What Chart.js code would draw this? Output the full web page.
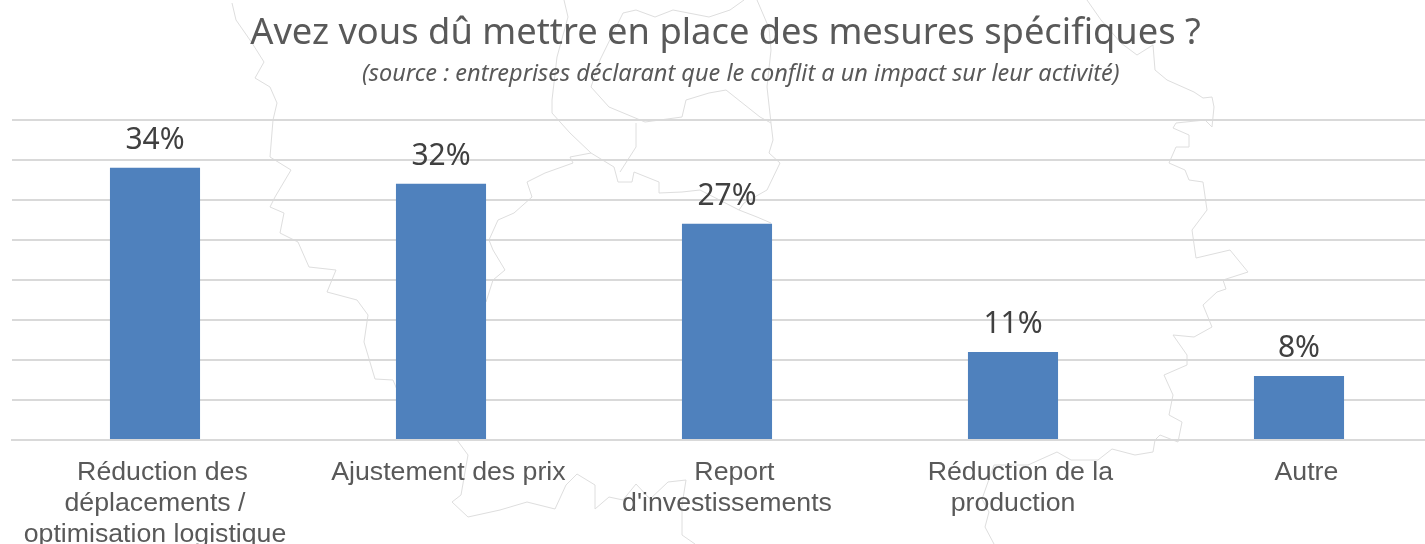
<!DOCTYPE html>
<html lang="fr">
<head>
<meta charset="utf-8">
<title>Mesures spécifiques</title>
<script src="https://cdn.jsdelivr.net/npm/chart.js@4"></script>
<style>
  html, body { margin: 0; padding: 0; background: #fff; overflow: hidden; }
  #wrap { position: relative; width: 1425px; height: 544px; overflow: hidden; }
  #map { position: absolute; left: 0; top: 0; }
  #box { position: absolute; left: 9px; top: 0; width: 1433px; height: 544px; }
</style>
</head>
<body>
<div id="wrap">
  <!-- contour de la carte en fond -->
  <svg id="map" width="1425" height="544" fill="none" stroke="#dedede" stroke-width="1">
    <path d="M232 3L236 20L243 30L252 43L264 62L255 78L270 87L277 103L273 120L270 157L291 170L275 197L270 207L284 213L280 233L298 242L309 267L336 270L327 292L357 300L368 315L364 342L375 379L393 380L398 392"/>
    <path d="M457 440L468 455L461 495L452 502L468 517L500 510L527 502L555 509L566 485L577 474L595 485L595 509L609 497L623 500L636 484L650 499L668 482L686 480L682 505L682 535L695 544"/>
    <path d="M994 544L985 527L989 512L982 499L994 465L1028 465L1057 452L1071 460L1098 460L1112 449L1135 455L1153 452L1155 440L1160 435L1178 442L1182 422L1169 415L1173 395L1164 375L1187 365L1187 355L1173 335L1194 337L1212 327L1203 305L1217 292L1226 289L1223 280L1248 272L1230 250L1196 258L1192 230L1207 210L1203 182L1189 180L1185 170L1169 163L1176 147L1189 147L1189 135L1173 128L1176 123L1205 120L1212 127L1214 107L1212 97L1203 98L1194 92L1167 80L1155 70L1153 45L1137 55L1121 43L1101 20L1087 0"/>
    <path d="M564 0L568 17L557 57L552 100L552 113L570 133L591 153L570 157L573 163L545 173L527 182L532 197L514 213L498 220L489 240L493 250L505 270L493 280L486 302"/>
    <path d="M591 153L614 167L618 182L632 182L634 172L659 182L659 193L682 192L700 190L739 210L757 217L771 223"/>
    <path d="M757 0L769 28L771 50L767 87L771 123L773 140L769 153L780 163L767 190L744 203L739 210"/>
    <path d="M591 87L609 107L645 122L682 117L686 100L709 93L726 90L760 117L771 123"/>
    <path d="M636 123L636 147L620 172"/>
    <path d="M591 87L600 60L623 13L636 10L655 17L673 10L709 17L730 10L744 0"/>
  </svg>
  <div id="box"><canvas id="graphique"></canvas></div>
</div>
<script>
const categories = [
  ["Réduction des", "déplacements /", "optimisation logistique"],
  "Ajustement des prix",
  ["Report", "d'investissements"],
  ["Réduction de la", "production"],
  "Autre",
];
const valeurs = [34, 32, 27, 11, 8];
const titre = "Avez vous dû mettre en place des mesures spécifiques ?";
const sousTitre = "(source : entreprises déclarant que le conflit a un impact sur leur activité)";

// première ligne des libellés légèrement décalée, comme sur l'original
function decaleLibelle(label) {
  const lignes = Array.isArray(label) ? label : [label];
  return lignes.map((ligne, i) => (i === 0 ? "\u00a0\u00a0" + ligne : ligne));
}

// valeurs au-dessus des barres (pas de plugin datalabels disponible)
const etiquettes = {
  id: "etiquettes",
  afterDatasetsDraw(chart) {
    const ctx = chart.ctx;
    ctx.save();
    ctx.font = "30px 'Noto Sans'";
    ctx.fillStyle = "#404040";
    ctx.textAlign = "center";
    ctx.textBaseline = "alphabetic";
    chart.getDatasetMeta(0).data.forEach((bar, i) => {
      ctx.fillText(valeurs[i] + "%", bar.x, bar.y - 19);
    });
    ctx.restore();
  },
};

new Chart(document.getElementById("graphique"), {
  type: "bar",
  data: {
    labels: categories,
    datasets: [
      {
        data: valeurs,
        backgroundColor: "#4F81BD",
        barPercentage: 0.63,
        categoryPercentage: 0.5,
      },
    ],
  },
  options: {
    responsive: true,
    maintainAspectRatio: false,
    animation: false,
    layout: { padding: 0 },
    plugins: {
      legend: { display: false },
      tooltip: { enabled: false },
      title: {
        display: true,
        text: titre,
        color: "#595959",
        font: { family: "'Noto Sans'", size: 36.3, weight: "normal" },
        padding: { top: 12, bottom: 5 },
      },
      subtitle: {
        display: true,
        // le sous-titre est un peu à droite du titre sur l'original
        text: "\u00a0".repeat(5) + sousTitre,
        color: "#595959",
        font: { family: "'Noto Sans'", size: 23.5, style: "italic", weight: "normal" },
        padding: { top: 0, bottom: 31 },
      },
    },
    scales: {
      x: {
        afterFit(axis) {
          axis.height = 104;
        },
        grid: { display: false },
        border: { color: "#D9D9D9", width: 2 },
        ticks: {
          callback(value) {
            return decaleLibelle(categories[value]);
          },
          color: "#595959",
          font: { family: "'Liberation Sans'", size: 26.7, lineHeight: 1.16 },
          maxRotation: 0,
          autoSkip: false,
          padding: 9,
        },
      },
      y: {
        min: 0,
        max: 40,
        afterFit(axis) {
          axis.width = 3;
        },
        grid: { color: "#D9D9D9", lineWidth: 2, drawTicks: false },
        border: { display: false },
        ticks: { display: false, stepSize: 5 },
      },
    },
  },
  plugins: [etiquettes],
});
</script>
</body>
</html>
